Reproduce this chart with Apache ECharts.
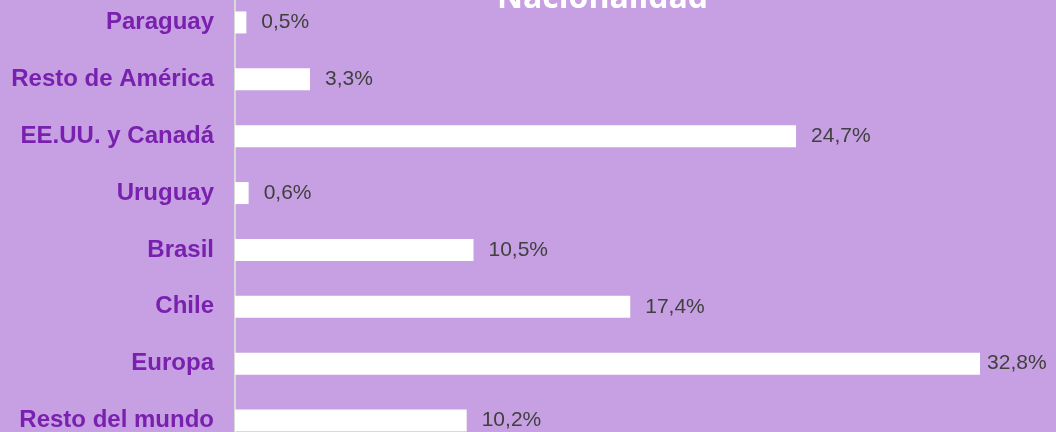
<!DOCTYPE html>
<html>
<head>
<meta charset="utf-8">
<script src="https://cdn.jsdelivr.net/npm/echarts@6/dist/echarts.min.js"></script>
<style>
html,body{margin:0;padding:0;background:#C6A0E3;overflow:hidden;width:1056px;height:432px;position:relative;}
#chart{position:absolute;left:0;top:-6px;width:1056px;height:455px;}
</style>
</head>
<body>
<div id="chart"></div>
<script>
const categories = ["Paraguay", "Resto de América", "EE.UU. y Canadá", "Uruguay", "Brasil", "Chile", "Europa", "Resto del mundo"];
const values = [0.5, 3.3, 24.7, 0.6, 10.5, 17.4, 32.8, 10.2];
const titleText = "Nacionalidad";

const chart = echarts.init(document.getElementById('chart'), null, {renderer: 'canvas'});
const seriesData = values.map((v, i) => categories[i] === "Europa" ? {value: v, label: {distance: 7}} : v);

chart.setOption({
  backgroundColor: '#C6A0E3',
  animation: false,
  title: {
    text: titleText,
    left: 497,
    top: -11,
    padding: 0,
    textStyle: {color: '#FFFFFF', fontFamily: 'Open Sans', fontWeight: 'bold', fontSize: 32}
  },
  grid: {left: 235, right: 26, top: 0, bottom: 0, containLabel: false},
  xAxis: {
    type: 'value', min: 0, max: 35,
    show: false
  },
  yAxis: {
    type: 'category',
    data: categories,
    inverse: true,
    axisLine: {show: true, lineStyle: {color: '#D9D9D9', width: 2}},
    axisTick: {show: false},
    splitLine: {show: false},
    axisLabel: {
      color: '#7A20AE', fontFamily: 'Arial, "Liberation Sans", sans-serif', fontWeight: 'bold', fontSize: 24, margin: 21
    }
  },
  series: [{
    type: 'bar',
    data: seriesData,
    barWidth: 22,
    itemStyle: {color: '#FFFFFF'},
    label: {
      show: true, position: 'right', distance: 15,
      color: '#404040', fontFamily: 'Arial, "Liberation Sans", sans-serif', fontSize: 21,
      formatter: p => p.value.toFixed(1).replace('.', ',') + '%'
    }
  }]
});
</script>
</body>
</html>
